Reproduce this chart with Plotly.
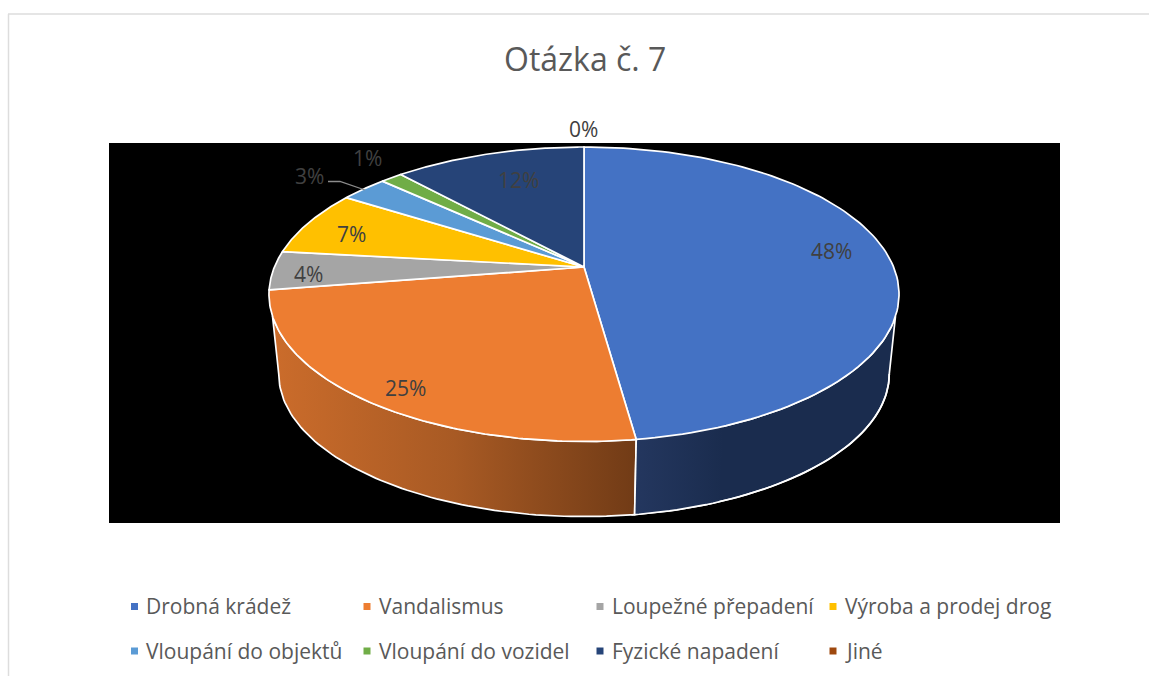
import numpy as np
import plotly.graph_objects as go

# ---- data ----
categories = ["Drobná krádež", "Vandalismus", "Loupežné přepadení", "Výroba a prodej drog",
              "Vloupání do objektů", "Vloupání do vozidel", "Fyzické napadení", "Jiné"]
values = [47.8, 24.7, 4.25, 7.25, 2.9, 1.35, 11.75, 0.0]
value_labels = ["48%", "25%", "4%", "7%", "3%", "1%", "12%", "0%"]
colors = ["#4472C4", "#ED7D31", "#A5A5A5", "#FFC000", "#5B9BD5", "#70AD47", "#264478", "#9E480E"]
title_text = "Otázka č. 7"

# ---- layout (pixel-space projection of the tilted disc) ----
W, H = 1149, 676
K = 0.185
TOP = dict(cx=584.0, cy=267.0, bx=309.6, by=142.2)
BOT = dict(cx=584.0, cy=347.5, bx=300.0, by=137.8)
label_pos = [(831.5, 250.5), (405, 388), (308.5, 274), (351, 234), (309, 176), (367, 158), (518, 180), (583, 129)]
legend_cols = [134.5, 367, 600, 833]
legend_rows = [606.5, 651]


def rim(theta_deg, d):
    t = np.radians(np.asarray(theta_deg, dtype=float))
    w = 1 + K * np.cos(t)
    return d["cx"] + d["bx"] * np.sin(t) / w, d["cy"] - d["by"] * np.cos(t) / w


edges = np.concatenate([[0.0], np.cumsum(values)]) * 360.0 / sum(values)
fig = go.Figure()
WHITE = dict(color="white", width=1.7)


def wall(t_top, t_bot, scale):
    xt, yt = rim(np.linspace(*t_top, 80), TOP)
    xb, yb = rim(np.linspace(*t_bot, 80), BOT)
    fig.add_trace(go.Scatter(
        x=np.concatenate([xt, xb[::-1], xt[:1]]), y=np.concatenate([yt, yb[::-1], yt[:1]]),
        mode="lines", line=WHITE, fill="toself", hoverinfo="skip",
        fillgradient=dict(type="horizontal", colorscale=scale)))


# side walls of the two slices facing the viewer
wall((109, edges[1]), (100.7, edges[1]),
     [[0, "#1A2C4E"], [0.75, "#1A2C4E"], [1, "#1A2C4E"]])
wall((edges[1], 251), (edges[1], 259.3),
     [[0, "#CB6C2B"], [0.5, "#A85A24"], [1, "#713B16"]])

# navy wall's lighter left end
xt, yt = rim(np.linspace(edges[1], edges[1] - 14, 30), TOP)
xb, yb = rim(np.linspace(edges[1] - 14, edges[1], 30), BOT)
fig.add_trace(go.Scatter(
    x=np.concatenate([xt, xb]), y=np.concatenate([yt, yb]), mode="lines",
    line=dict(width=0), fill="toself", hoverinfo="skip",
    fillgradient=dict(type="horizontal", colorscale=[[0, "#24375F"], [1, "#1A2C4E"]])))
xv, yv = rim(edges[1], TOP), rim(edges[1], BOT)
fig.add_trace(go.Scatter(x=[xv[0], yv[0]], y=[xv[1], yv[1]], mode="lines", line=WHITE, hoverinfo="skip"))
xb, yb = rim(np.linspace(100.7, edges[1] + 0.5, 60), BOT)
fig.add_trace(go.Scatter(x=xb, y=yb, mode="lines", line=WHITE, hoverinfo="skip"))

# top face
for i, cat in enumerate(categories):
    if values[i] <= 0:
        continue
    x, y = rim(np.linspace(edges[i], edges[i + 1], 120), TOP)
    fig.add_trace(go.Scatter(
        x=np.concatenate([[TOP["cx"]], x, [TOP["cx"]]]), y=np.concatenate([[TOP["cy"]], y, [TOP["cy"]]]),
        mode="lines", line=WHITE, fill="toself", fillcolor=colors[i], name=cat,
        hovertemplate=cat + ": " + value_labels[i] + "<extra></extra>"))

# leader line of the 3 % label
fig.add_trace(go.Scatter(x=[328, 340, 365], y=[181.5, 181.5, 190], mode="lines",
                         line=dict(color="#8C8C8C", width=1.3), hoverinfo="skip"))

# data labels
for txt, (lx, ly) in zip(value_labels, label_pos):
    fig.add_annotation(x=lx, y=ly, text=txt, showarrow=False, xanchor="center", yanchor="middle",
                       font=dict(family="Open Sans", size=21, color="#404040"))

# legend
for i, cat in enumerate(categories):
    col, row = legend_cols[i % 4], legend_rows[i // 4]
    fig.add_trace(go.Scatter(x=[col], y=[row], mode="markers", hoverinfo="skip",
                             marker=dict(symbol="square", size=7, color=colors[i])))
    fig.add_annotation(x=col + 12.5, y=row - 0.5, text=cat, showarrow=False, xanchor="left", yanchor="middle",
                       xshift=-3, font=dict(family="Open Sans", size=21, color="#595959"))

fig.add_annotation(x=584.5, y=58, text=title_text, showarrow=False, xanchor="center", yanchor="middle",
                   font=dict(family="Open Sans", size=32, color="#595959"))

fig.update_layout(
    width=W, height=H, autosize=False, margin=dict(l=0, r=0, t=0, b=0),
    paper_bgcolor="white", plot_bgcolor="white", showlegend=False,
    xaxis=dict(range=[0, W], visible=False, fixedrange=True),
    yaxis=dict(range=[H, 0], visible=False, fixedrange=True),
    shapes=[
        dict(type="rect", x0=109, x1=1060, y0=143, y1=523, fillcolor="black", line_width=0, layer="below"),
        dict(type="line", x0=8, x1=W, y0=14, y1=14, line=dict(color="#DDDDDD", width=1.5), layer="below"),
        dict(type="line", x0=8.5, x1=8.5, y0=14, y1=H, line=dict(color="#DDDDDD", width=1.5), layer="below"),
    ],
)
fig.write_html("out.html", config=dict(displayModeBar=False),
               post_script="document.body.style.margin='0';document.body.style.overflow='hidden';")
